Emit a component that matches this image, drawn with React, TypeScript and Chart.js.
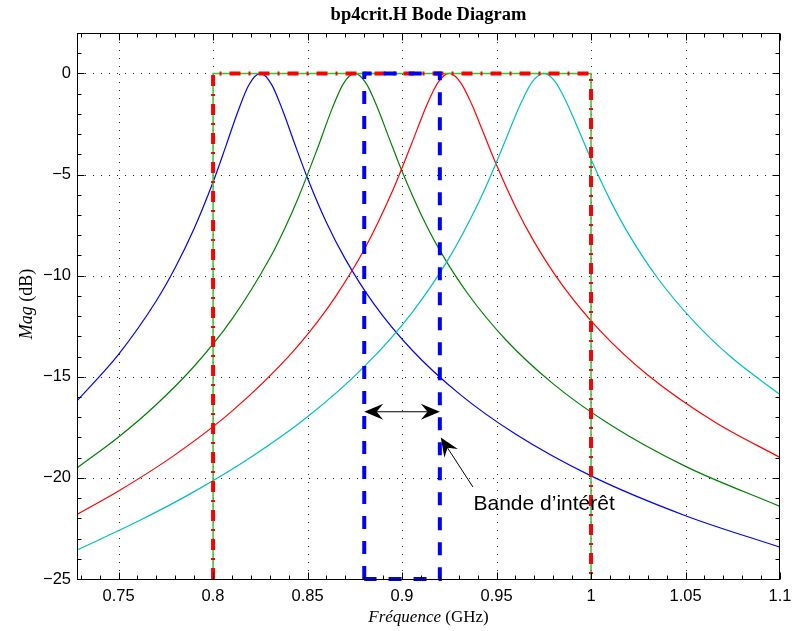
import React, { useEffect, useRef } from "react";
import { Chart, registerables } from "chart.js";

Chart.register(...registerables);

// ---- Axis definition ----
const xMin = 0.728;
const xMax = 1.1;
const yMin = -25;
const yMax = 2;
const xTicks = [0.75, 0.8, 0.85, 0.9, 0.95, 1.0, 1.05, 1.1];
const yTicks = [-25, -20, -15, -10, -5, 0];
const xMinorStep = 0.01;
const yMinorStep = 1;

// ---- Series ----
const blueFreq = [0.728, 0.75, 0.77, 0.78, 0.79, 0.8, 0.807, 0.813, 0.819, 0.825, 0.831, 0.837, 0.843, 0.85, 0.86, 0.87, 0.885, 0.905, 0.93, 0.96, 1.0, 1.05, 1.1];
const blueMag = [-16.19, -13.89, -11.24, -9.6, -7.67, -5.37, -3.53, -1.92, -0.56, 0, -0.55, -1.87, -3.43, -5.18, -7.37, -9.18, -11.38, -13.65, -15.82, -17.83, -19.9, -21.87, -23.43];

const greenFreq = [0.728, 0.75, 0.77, 0.79, 0.81, 0.83, 0.838, 0.845, 0.855, 0.863, 0.869, 0.875, 0.881, 0.887, 0.893, 0.9, 0.91, 0.92, 0.935, 0.955, 0.98, 1.01, 1.05, 1.1];
const greenMag = [-19.51, -17.98, -16.37, -14.48, -12.15, -9.14, -7.65, -6.17, -3.77, -1.74, -0.5, 0, -0.49, -1.7, -3.16, -4.84, -6.96, -8.75, -10.92, -13.18, -15.35, -17.36, -19.43, -21.41];

const redFreq = [0.728, 0.75, 0.78, 0.81, 0.84, 0.855, 0.865, 0.88, 0.895, 0.905, 0.913, 0.919, 0.925, 0.931, 0.937, 0.943, 0.95, 0.96, 0.97, 0.985, 1.005, 1.03, 1.065, 1.1];
const redMag = [-21.81, -20.65, -18.85, -16.7, -13.99, -12.31, -11.01, -8.71, -5.8, -3.49, -1.58, -0.45, 0, -0.45, -1.55, -2.92, -4.53, -6.59, -8.34, -10.49, -12.74, -14.91, -17.21, -18.99];

const cyanFreq = [0.728, 0.76, 0.79, 0.82, 0.85, 0.88, 0.905, 0.925, 0.94, 0.948, 0.955, 0.963, 0.969, 0.975, 0.981, 0.987, 0.993, 1.0, 1.01, 1.02, 1.035, 1.055, 1.075, 1.1];
const cyanMag = [-23.57, -22.16, -20.68, -18.98, -16.98, -14.5, -11.86, -9.11, -6.48, -4.82, -3.24, -1.45, -0.41, 0, -0.4, -1.42, -2.7, -4.24, -6.24, -7.96, -10.09, -12.32, -14.1, -15.88];

// Template (band 0.8 .. 1 GHz) and band of interest (0.88 .. 0.92 GHz)
const templateX = [0.8, 0.8, 1.0, 1.0];
const templateY = [-25, 0, 0, -25];
const bandX = [0.88, 0.88, 0.92, 0.92, 0.88];
const bandY = [-25, 0, 0, -25, -25];

// Annotations
const bandArrowX = [0.88, 0.92];
const bandArrowY = -16.73;
const labelArrowTip = [0.9205, -18.0];
const labelArrowTail = [0.9375, -20.45];
const labelPos = [0.9378, -21.6];
const labelText = "Bande d\u2019intérêt";
const titleText = "bp4crit.H Bode Diagram";

const toPts = (xs: number[], ys: number[]) => xs.map((x, i) => ({ x, y: ys[i] }));

const fmtX = (v: number) => String(Math.round(v * 1000) / 1000);
const fmtY = (v: number) => (v < 0 ? "\u2212" + String(-v) : String(v));

function arrowHead(ctx: CanvasRenderingContext2D, tx: number, ty: number, fx: number, fy: number, len: number, hw: number) {
  const ang = Math.atan2(ty - fy, tx - fx);
  const dx = Math.cos(ang), dy = Math.sin(ang);
  const px = -dy, py = dx;
  const bx = tx - len * dx, by = ty - len * dy;
  const nx = tx - len * 0.65 * dx, ny = ty - len * 0.65 * dy;
  ctx.beginPath();
  ctx.moveTo(tx, ty);
  ctx.lineTo(bx + hw * px, by + hw * py);
  ctx.lineTo(nx, ny);
  ctx.lineTo(bx - hw * px, by - hw * py);
  ctx.closePath();
  ctx.fill();
}

const decorPlugin = {
  id: "decor",
  beforeDatasetsDraw(chart: any) {
    const { ctx, chartArea: a, scales } = chart;
    const x = scales.x, y = scales.y;
    ctx.save();
    ctx.strokeStyle = "#222";
    ctx.lineWidth = 1;
    ctx.setLineDash([1, 7]);
    ctx.beginPath();
    for (const v of xTicks) {
      if (v >= xMax - 1e-9) continue;
      const px = Math.round(x.getPixelForValue(v)) + 0.5;
      ctx.moveTo(px, a.bottom);
      ctx.lineTo(px, a.top);
    }
    for (const v of yTicks) {
      if (v <= yMin + 1e-9) continue;
      const py = Math.round(y.getPixelForValue(v)) + 0.5;
      ctx.moveTo(a.left, py);
      ctx.lineTo(a.right, py);
    }
    ctx.stroke();
    ctx.restore();
  },
  afterDatasetsDraw(chart: any) {
    const { ctx, chartArea: a, scales } = chart;
    const x = scales.x, y = scales.y;
    ctx.save();
    // box
    ctx.strokeStyle = "#000";
    ctx.lineWidth = 1;
    ctx.setLineDash([]);
    const L = Math.round(a.left) + 0.5, R = Math.round(a.right) - 0.5;
    const T = Math.round(a.top) + 0.5, B = Math.round(a.bottom) + 0.5;
    ctx.strokeRect(L, T, R - L, B - T);
    // ticks
    ctx.beginPath();
    const nX = Math.round((xMax - 0.73) / xMinorStep);
    for (let i = 0; i <= nX; i++) {
      const v = 0.73 + i * xMinorStep;
      const major = xTicks.some((t) => Math.abs(t - v) < 1e-6);
      const len = major ? 7 : 4;
      const px = Math.round(x.getPixelForValue(v)) + 0.5;
      ctx.moveTo(px, B);
      ctx.lineTo(px, B - len);
      ctx.moveTo(px, T);
      ctx.lineTo(px, T + len);
    }
    const nY = Math.round((yMax - yMin) / yMinorStep);
    for (let i = 0; i <= nY; i++) {
      const v = yMin + i * yMinorStep;
      const major = yTicks.some((t) => Math.abs(t - v) < 1e-6);
      const len = major ? 7 : 4;
      const py = Math.round(y.getPixelForValue(v)) + 0.5;
      ctx.moveTo(L, py);
      ctx.lineTo(L + len, py);
      ctx.moveTo(R, py);
      ctx.lineTo(R - len, py);
    }
    ctx.stroke();

    // band double arrow
    ctx.fillStyle = "#000";
    ctx.strokeStyle = "#000";
    ctx.lineWidth = 1;
    const ax0 = x.getPixelForValue(bandArrowX[0]);
    const ax1 = x.getPixelForValue(bandArrowX[1]);
    const ay = y.getPixelForValue(bandArrowY);
    ctx.beginPath();
    ctx.moveTo(ax0 + 6, ay);
    ctx.lineTo(ax1 - 6, ay);
    ctx.stroke();
    arrowHead(ctx, ax0, ay, ax1, ay, 19, 8);
    arrowHead(ctx, ax1, ay, ax0, ay, 19, 8);

    // label arrow
    const tx = x.getPixelForValue(labelArrowTip[0]);
    const ty = y.getPixelForValue(labelArrowTip[1]);
    const fx = x.getPixelForValue(labelArrowTail[0]);
    const fy = y.getPixelForValue(labelArrowTail[1]);
    ctx.beginPath();
    ctx.moveTo(fx, fy);
    ctx.lineTo(tx + (fx - tx) * 0.15, ty + (fy - ty) * 0.15);
    ctx.stroke();
    arrowHead(ctx, tx, ty, fx, fy, 19, 8);

    // label text
    ctx.font = "21px 'Liberation Sans', Arial, sans-serif";
    ctx.textAlign = "left";
    ctx.textBaseline = "alphabetic";
    ctx.fillText(labelText, x.getPixelForValue(labelPos[0]), y.getPixelForValue(labelPos[1]));
    ctx.restore();
  },
  afterDraw(chart: any) {
    const { ctx, chartArea: a } = chart;
    const cx = (a.left + a.right) / 2;
    ctx.save();
    ctx.fillStyle = "#000";
    // title
    ctx.font = "bold 18.5px 'Liberation Serif', 'Times New Roman', serif";
    ctx.textAlign = "center";
    ctx.textBaseline = "alphabetic";
    ctx.fillText(titleText, cx, 20);
    // x title: italic + regular
    const itFont = "italic 17px 'Liberation Serif', 'Times New Roman', serif";
    const rgFont = "17px 'Liberation Serif', 'Times New Roman', serif";
    ctx.font = itFont;
    const w1 = ctx.measureText("Fréquence").width;
    ctx.font = rgFont;
    const w2 = ctx.measureText(" (GHz)").width;
    const sx = cx - (w1 + w2) / 2;
    ctx.textAlign = "left";
    ctx.font = itFont;
    ctx.fillText("Fréquence", sx, 622);
    ctx.font = rgFont;
    ctx.fillText(" (GHz)", sx + w1, 622);
    // y title rotated
    const itFontY = "italic 18px 'Liberation Serif', 'Times New Roman', serif";
    const rgFontY = "18px 'Liberation Serif', 'Times New Roman', serif";
    ctx.font = itFontY;
    const v1 = ctx.measureText("Mag").width;
    ctx.font = rgFontY;
    const v2 = ctx.measureText(" (dB)").width;
    ctx.translate(32, 304);
    ctx.rotate(-Math.PI / 2);
    const sy = -(v1 + v2) / 2;
    ctx.font = itFontY;
    ctx.fillText("Mag", sy, 0);
    ctx.font = rgFontY;
    ctx.fillText(" (dB)", sy + v1, 0);
    ctx.restore();
  },
};

export default function App() {
  const ref = useRef<HTMLCanvasElement | null>(null);
  useEffect(() => {
    if (!ref.current) return;
    const curveDs = (xs: number[], ys: number[], color: string, order: number) => ({
      data: toPts(xs, ys),
      borderColor: color,
      backgroundColor: color,
      borderWidth: 1.2,
      pointRadius: 0,
      fill: false,
      cubicInterpolationMode: "monotone" as const,
      order,
    });
    const chart = new Chart(ref.current, {
      type: "line",
      data: {
        datasets: [
          curveDs(blueFreq, blueMag, "#0000ff", 10),
          curveDs(greenFreq, greenMag, "#008000", 9),
          curveDs(redFreq, redMag, "#ff0000", 8),
          curveDs(cyanFreq, cyanMag, "#00bfbf", 7),
          {
            data: toPts(templateX, templateY),
            borderColor: "#33c433",
            borderWidth: 1.5,
            pointRadius: 0,
            tension: 0,
            fill: false,
            clip: 6,
            order: 3,
          },
          {
            data: toPts(templateX, templateY),
            borderColor: "#ff0000",
            borderWidth: 4,
            borderDash: [11, 8, 2, 8],
            borderCapStyle: "butt",
            pointRadius: 0,
            tension: 0,
            fill: false,
            clip: 6,
            order: 2,
          },
          {
            data: toPts(bandX, bandY),
            borderColor: "#0000ff",
            borderWidth: 4,
            borderDash: [13, 12],
            borderCapStyle: "butt",
            pointRadius: 0,
            tension: 0,
            fill: false,
            clip: 6,
            order: 1,
          },
        ],
      },
      options: {
        animation: false,
        responsive: false,
        events: [],
        layout: { padding: { top: 33, right: 12, left: 0, bottom: 0 } },
        plugins: {
          legend: { display: false },
          tooltip: { enabled: false },
          title: { display: false },
        },
        scales: {
          x: {
            type: "linear",
            min: xMin,
            max: xMax,
            afterBuildTicks: (scale: any) => {
              scale.ticks = xTicks.map((v) => ({ value: v }));
            },
            afterFit: (scale: any) => {
              scale.height = 52;
              scale.paddingLeft = 0;
              scale.paddingRight = 0;
            },
            grid: { display: false, drawTicks: false },
            border: { display: false },
            ticks: {
              padding: 8,
              maxRotation: 0,
              autoSkip: false,
              color: "#000",
              font: { family: "'Liberation Sans', Arial, sans-serif", size: 16.5 },
              callback: (v: any) => fmtX(Number(v)),
            },
          },
          y: {
            type: "linear",
            min: yMin,
            max: yMax,
            afterBuildTicks: (scale: any) => {
              scale.ticks = yTicks.map((v) => ({ value: v }));
            },
            afterFit: (scale: any) => {
              scale.width = 77;
              scale.paddingTop = 0;
              scale.paddingBottom = 0;
            },
            grid: { display: false, drawTicks: false },
            border: { display: false },
            ticks: {
              padding: 6,
              autoSkip: false,
              color: "#000",
              font: { family: "'Liberation Sans', Arial, sans-serif", size: 16.5 },
              callback: (v: any) => fmtY(Number(v)),
            },
          },
        },
      },
      plugins: [decorPlugin],
    } as any);
    return () => chart.destroy();
  }, []);
  return (
    <div style={{ position: "fixed", left: 0, top: 0, width: 792, height: 631, background: "#fff" }}>
      <canvas ref={ref} width={792} height={631} style={{ display: "block" }} />
    </div>
  );
}
